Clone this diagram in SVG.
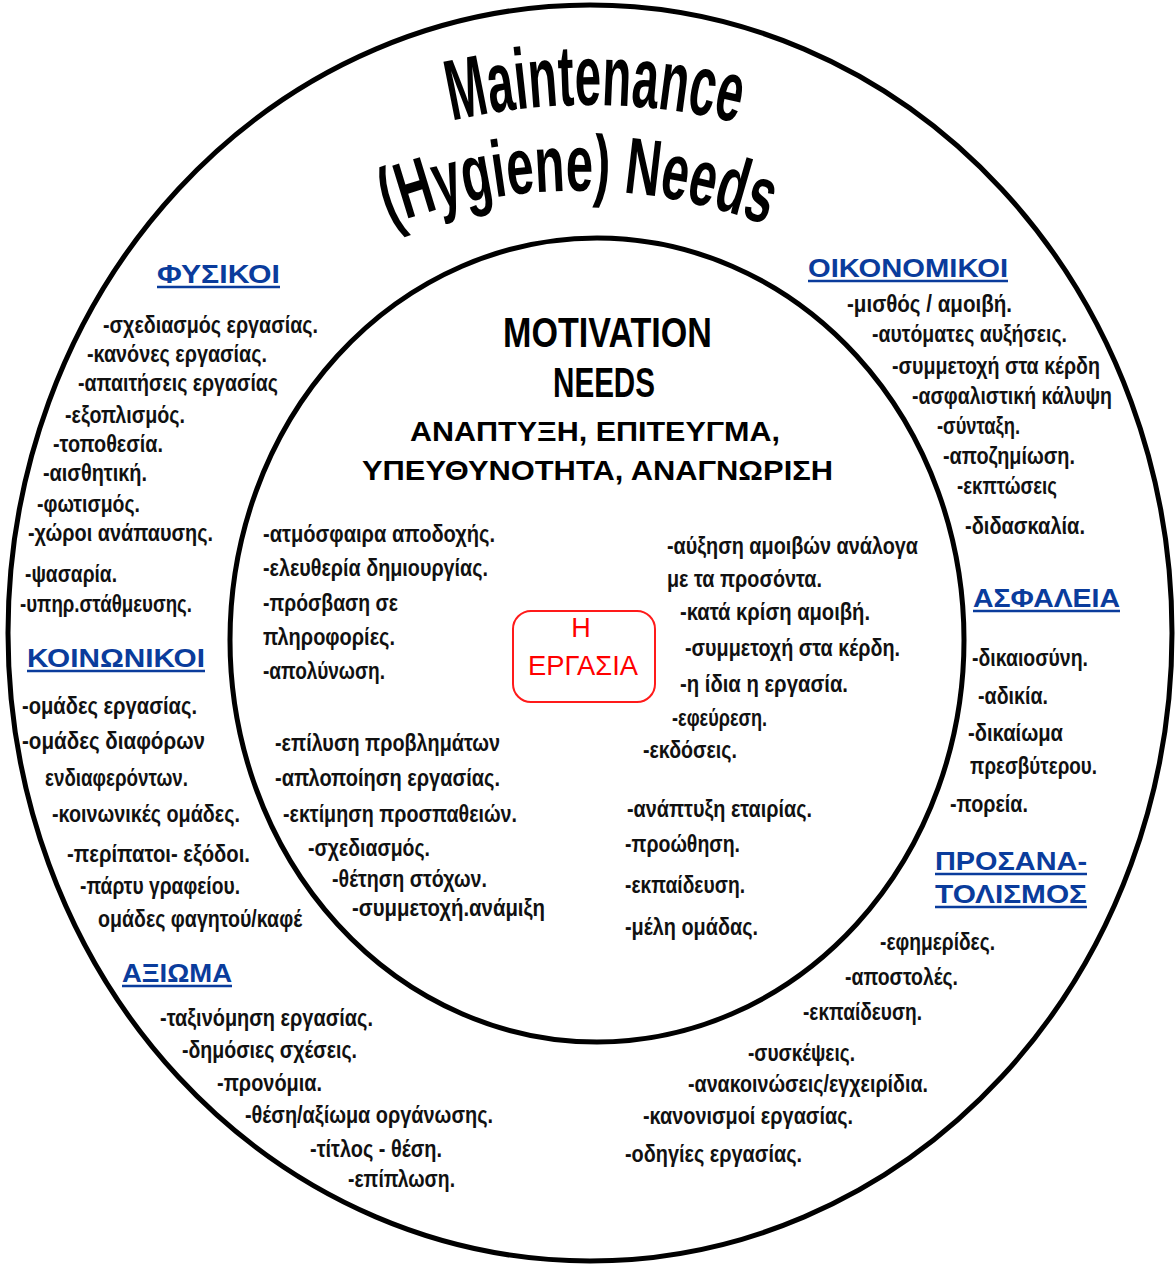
<svg xmlns="http://www.w3.org/2000/svg" width="1176" height="1264" viewBox="0 0 1176 1264">
  <style>
    .ring { fill: none; stroke: #000; stroke-width: 5; }
    .title { font-family: "Liberation Sans", Arial, sans-serif; font-weight: bold; fill: #000; }
    .head { font-family: "Liberation Sans", Arial, sans-serif; font-weight: bold; font-size: 26px; fill: #0a3c9c; }
    .uline { stroke: #0a3c9c; stroke-width: 2.5; }
    .t { font-family: "Liberation Sans", Arial, sans-serif; font-weight: bold; font-size: 23px; fill: #111; }
    .core { font-family: "Liberation Sans", Arial, sans-serif; font-weight: bold; fill: #000; }
    .work { font-family: "Liberation Sans", Arial, sans-serif; font-size: 27px; fill: #ff0000; text-anchor: middle; }
  </style>
  <defs>
    <path id="arcTop" d="M170,270.8 A615,615 0 0 1 1010,270.8"/>
    <path id="arcLow" d="M178,372 A532,532 0 0 1 978,372"/>
  </defs>

  <rect width="1176" height="1264" fill="#fff"/>

  <!-- rings -->
  <g id="outer-ring">
    <ellipse class="ring" cx="590" cy="633" rx="582" ry="628"/>
  </g>
  <g id="inner-ring">
    <ellipse class="ring" cx="597" cy="640" rx="367" ry="402"/>
  </g>

  <!-- curved title -->
  <g id="title">
    <text class="title" font-size="86"><textPath href="#arcTop" startOffset="467" text-anchor="middle" textLength="288" lengthAdjust="spacingAndGlyphs">Maintenance</textPath></text>
    <text class="title" font-size="80"><textPath href="#arcLow" startOffset="50%" text-anchor="middle" textLength="384" lengthAdjust="spacingAndGlyphs">(Hygiene) Needs</textPath></text>
  </g>

  <!-- physical factors -->
  <g id="fysikoi">
    <text class="head" x="157" y="283" textLength="123" lengthAdjust="spacingAndGlyphs">ΦΥΣΙΚΟΙ</text>
    <line class="uline" x1="157" y1="287" x2="280" y2="287"/>
    <text class="t" x="103" y="333" textLength="215" lengthAdjust="spacingAndGlyphs">-σχεδιασμός εργασίας.</text>
    <text class="t" x="87" y="362" textLength="180" lengthAdjust="spacingAndGlyphs">-κανόνες εργασίας.</text>
    <text class="t" x="78" y="391" textLength="200" lengthAdjust="spacingAndGlyphs">-απαιτήσεις εργασίας</text>
    <text class="t" x="65" y="423" textLength="120" lengthAdjust="spacingAndGlyphs">-εξοπλισμός.</text>
    <text class="t" x="53" y="452" textLength="110" lengthAdjust="spacingAndGlyphs">-τοποθεσία.</text>
    <text class="t" x="43" y="481" textLength="104" lengthAdjust="spacingAndGlyphs">-αισθητική.</text>
    <text class="t" x="37" y="512" textLength="103" lengthAdjust="spacingAndGlyphs">-φωτισμός.</text>
    <text class="t" x="28" y="541" textLength="185" lengthAdjust="spacingAndGlyphs">-χώροι ανάπαυσης.</text>
    <text class="t" x="25" y="582" textLength="92" lengthAdjust="spacingAndGlyphs">-ψασαρία.</text>
    <text class="t" x="20" y="612" textLength="172" lengthAdjust="spacingAndGlyphs">-υπηρ.στάθμευσης.</text>
  </g>

  <!-- social factors -->
  <g id="koinonikoi">
    <text class="head" x="27" y="667" textLength="178" lengthAdjust="spacingAndGlyphs">ΚΟΙΝΩΝΙΚΟΙ</text>
    <line class="uline" x1="27" y1="671" x2="205" y2="671"/>
    <text class="t" x="22" y="714" textLength="175" lengthAdjust="spacingAndGlyphs">-ομάδες εργασίας.</text>
    <text class="t" x="22" y="749" textLength="183" lengthAdjust="spacingAndGlyphs">-ομάδες διαφόρων</text>
    <text class="t" x="45" y="786" textLength="143" lengthAdjust="spacingAndGlyphs">ενδιαφερόντων.</text>
    <text class="t" x="52" y="822" textLength="188" lengthAdjust="spacingAndGlyphs">-κοινωνικές ομάδες.</text>
    <text class="t" x="67" y="862" textLength="183" lengthAdjust="spacingAndGlyphs">-περίπατοι- εξόδοι.</text>
    <text class="t" x="80" y="894" textLength="160" lengthAdjust="spacingAndGlyphs">-πάρτυ γραφείου.</text>
    <text class="t" x="98" y="927" textLength="204" lengthAdjust="spacingAndGlyphs">ομάδες φαγητού/καφέ</text>
  </g>

  <!-- status factors -->
  <g id="axioma">
    <text class="head" x="122" y="982" textLength="110" lengthAdjust="spacingAndGlyphs">ΑΞΙΩΜΑ</text>
    <line class="uline" x1="122" y1="986" x2="232" y2="986"/>
    <text class="t" x="160" y="1026" textLength="213" lengthAdjust="spacingAndGlyphs">-ταξινόμηση εργασίας.</text>
    <text class="t" x="182" y="1058" textLength="175" lengthAdjust="spacingAndGlyphs">-δημόσιες σχέσεις.</text>
    <text class="t" x="217" y="1091" textLength="105" lengthAdjust="spacingAndGlyphs">-προνόμια.</text>
    <text class="t" x="245" y="1123" textLength="248" lengthAdjust="spacingAndGlyphs">-θέση/αξίωμα οργάνωσης.</text>
    <text class="t" x="310" y="1157" textLength="132" lengthAdjust="spacingAndGlyphs">-τίτλος - θέση.</text>
    <text class="t" x="348" y="1187" textLength="107" lengthAdjust="spacingAndGlyphs">-επίπλωση.</text>
  </g>

  <!-- financial factors -->
  <g id="oikonomikoi">
    <text class="head" x="808" y="277" textLength="200" lengthAdjust="spacingAndGlyphs">ΟΙΚΟΝΟΜΙΚΟΙ</text>
    <line class="uline" x1="808" y1="281" x2="1008" y2="281"/>
    <text class="t" x="847" y="312" textLength="165" lengthAdjust="spacingAndGlyphs">-μισθός / αμοιβή.</text>
    <text class="t" x="872" y="342" textLength="195" lengthAdjust="spacingAndGlyphs">-αυτόματες αυξήσεις.</text>
    <text class="t" x="892" y="374" textLength="208" lengthAdjust="spacingAndGlyphs">-συμμετοχή στα κέρδη</text>
    <text class="t" x="912" y="404" textLength="200" lengthAdjust="spacingAndGlyphs">-ασφαλιστική κάλυψη</text>
    <text class="t" x="937" y="434" textLength="83" lengthAdjust="spacingAndGlyphs">-σύνταξη.</text>
    <text class="t" x="943" y="464" textLength="132" lengthAdjust="spacingAndGlyphs">-αποζημίωση.</text>
    <text class="t" x="957" y="494" textLength="100" lengthAdjust="spacingAndGlyphs">-εκπτώσεις</text>
    <text class="t" x="965" y="534" textLength="120" lengthAdjust="spacingAndGlyphs">-διδασκαλία.</text>
  </g>

  <!-- security factors -->
  <g id="asfaleia">
    <text class="head" x="973" y="607" textLength="147" lengthAdjust="spacingAndGlyphs">ΑΣΦΑΛΕΙΑ</text>
    <line class="uline" x1="973" y1="611" x2="1120" y2="611"/>
    <text class="t" x="972" y="666" textLength="116" lengthAdjust="spacingAndGlyphs">-δικαιοσύνη.</text>
    <text class="t" x="978" y="704" textLength="70" lengthAdjust="spacingAndGlyphs">-αδικία.</text>
    <text class="t" x="968" y="741" textLength="95" lengthAdjust="spacingAndGlyphs">-δικαίωμα</text>
    <text class="t" x="970" y="774" textLength="127" lengthAdjust="spacingAndGlyphs">πρεσβύτερου.</text>
    <text class="t" x="950" y="812" textLength="78" lengthAdjust="spacingAndGlyphs">-πορεία.</text>
  </g>

  <!-- orientation factors -->
  <g id="prosanatolismos">
    <text class="head" x="935" y="870" textLength="152" lengthAdjust="spacingAndGlyphs">ΠΡΟΣΑΝΑ-</text>
    <line class="uline" x1="935" y1="874" x2="1087" y2="874"/>
    <text class="head" x="935" y="903" textLength="152" lengthAdjust="spacingAndGlyphs">ΤΟΛΙΣΜΟΣ</text>
    <line class="uline" x1="935" y1="907" x2="1087" y2="907"/>
    <text class="t" x="880" y="950" textLength="115" lengthAdjust="spacingAndGlyphs">-εφημερίδες.</text>
    <text class="t" x="845" y="985" textLength="113" lengthAdjust="spacingAndGlyphs">-αποστολές.</text>
    <text class="t" x="803" y="1020" textLength="119" lengthAdjust="spacingAndGlyphs">-εκπαίδευση.</text>
    <text class="t" x="748" y="1061" textLength="107" lengthAdjust="spacingAndGlyphs">-συσκέψεις.</text>
    <text class="t" x="688" y="1092" textLength="240" lengthAdjust="spacingAndGlyphs">-ανακοινώσεις/εγχειρίδια.</text>
    <text class="t" x="643" y="1124" textLength="210" lengthAdjust="spacingAndGlyphs">-κανονισμοί εργασίας.</text>
    <text class="t" x="625" y="1162" textLength="177" lengthAdjust="spacingAndGlyphs">-οδηγίες εργασίας.</text>
  </g>

  <!-- motivation core heading -->
  <g id="motivation">
    <text class="core" x="503" y="347" font-size="42" textLength="209" lengthAdjust="spacingAndGlyphs">MOTIVATION</text>
    <text class="core" x="553" y="397" font-size="42" textLength="102" lengthAdjust="spacingAndGlyphs">NEEDS</text>
    <text class="core" x="410" y="441" font-size="28" textLength="370" lengthAdjust="spacingAndGlyphs">ΑΝΑΠΤΥΞΗ, ΕΠΙΤΕΥΓΜΑ,</text>
    <text class="core" x="362" y="480" font-size="28" textLength="471" lengthAdjust="spacingAndGlyphs">ΥΠΕΥΘΥΝΟΤΗΤΑ, ΑΝΑΓΝΩΡΙΣΗ</text>
  </g>

  <!-- motivators, left column -->
  <g id="motivators-left">
    <text class="t" x="263" y="542" textLength="232" lengthAdjust="spacingAndGlyphs">-ατμόσφαιρα αποδοχής.</text>
    <text class="t" x="263" y="576" textLength="225" lengthAdjust="spacingAndGlyphs">-ελευθερία δημιουργίας.</text>
    <text class="t" x="263" y="611" textLength="135" lengthAdjust="spacingAndGlyphs">-πρόσβαση σε</text>
    <text class="t" x="263" y="645" textLength="132" lengthAdjust="spacingAndGlyphs">πληροφορίες.</text>
    <text class="t" x="263" y="679" textLength="122" lengthAdjust="spacingAndGlyphs">-απολύνωση.</text>
    <text class="t" x="275" y="751" textLength="225" lengthAdjust="spacingAndGlyphs">-επίλυση προβλημάτων</text>
    <text class="t" x="275" y="786" textLength="225" lengthAdjust="spacingAndGlyphs">-απλοποίηση εργασίας.</text>
    <text class="t" x="283" y="822" textLength="234" lengthAdjust="spacingAndGlyphs">-εκτίμηση προσπαθειών.</text>
    <text class="t" x="308" y="856" textLength="122" lengthAdjust="spacingAndGlyphs">-σχεδιασμός.</text>
    <text class="t" x="332" y="887" textLength="155" lengthAdjust="spacingAndGlyphs">-θέτηση στόχων.</text>
    <text class="t" x="352" y="916" textLength="193" lengthAdjust="spacingAndGlyphs">-συμμετοχή.ανάμιξη</text>
  </g>

  <!-- motivators, right column -->
  <g id="motivators-right">
    <text class="t" x="667" y="554" textLength="251" lengthAdjust="spacingAndGlyphs">-αύξηση αμοιβών ανάλογα</text>
    <text class="t" x="667" y="587" textLength="155" lengthAdjust="spacingAndGlyphs">με τα προσόντα.</text>
    <text class="t" x="680" y="620" textLength="190" lengthAdjust="spacingAndGlyphs">-κατά κρίση αμοιβή.</text>
    <text class="t" x="685" y="656" textLength="215" lengthAdjust="spacingAndGlyphs">-συμμετοχή στα κέρδη.</text>
    <text class="t" x="680" y="692" textLength="168" lengthAdjust="spacingAndGlyphs">-η ίδια η εργασία.</text>
    <text class="t" x="672" y="726" textLength="95" lengthAdjust="spacingAndGlyphs">-εφεύρεση.</text>
    <text class="t" x="643" y="758" textLength="94" lengthAdjust="spacingAndGlyphs">-εκδόσεις.</text>
    <text class="t" x="627" y="817" textLength="185" lengthAdjust="spacingAndGlyphs">-ανάπτυξη εταιρίας.</text>
    <text class="t" x="625" y="852" textLength="115" lengthAdjust="spacingAndGlyphs">-προώθηση.</text>
    <text class="t" x="625" y="893" textLength="120" lengthAdjust="spacingAndGlyphs">-εκπαίδευση.</text>
    <text class="t" x="625" y="935" textLength="133" lengthAdjust="spacingAndGlyphs">-μέλη ομάδας.</text>
  </g>

  <!-- the job itself, centre box -->
  <g id="ergasia">
    <rect x="513" y="611" width="142" height="91" rx="18" ry="18" fill="none" stroke="#ff1a1a" stroke-width="2"/>
    <text class="work" x="581" y="637">Η</text>
    <text class="work" x="583" y="675" textLength="110" lengthAdjust="spacingAndGlyphs">ΕΡΓΑΣΙΑ</text>
  </g>
</svg>
